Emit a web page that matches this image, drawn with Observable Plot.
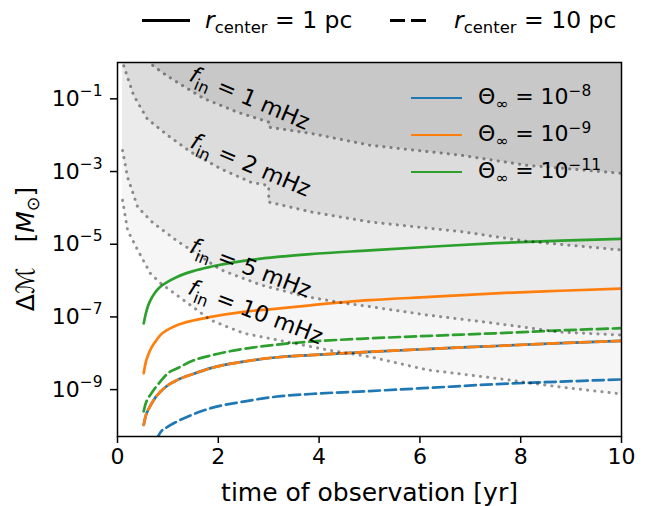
<!DOCTYPE html>
<html><head><meta charset="utf-8">
<script src="https://cdn.jsdelivr.net/npm/d3@7"></script>
<script src="https://cdn.jsdelivr.net/npm/@observablehq/plot@0.6"></script>
<style>
body{margin:0;background:#fff;font-family:"DejaVu Sans",sans-serif;color:#000;}
#wrap{position:relative;width:647px;height:506px;overflow:hidden;}
#toplegend{position:relative;height:38px;}
.abs{position:absolute;white-space:nowrap;}
.ln{position:absolute;height:0;}
.txt{font-size:22px;line-height:22px;transform:translateY(-50%);}
.big{font-size:23.5px;line-height:24px;}
.sub{font-size:70%;position:relative;top:0.3em;}
.sup{font-size:70%;position:relative;top:-0.5em;}
#ylab{position:absolute;left:25px;top:249px;transform:translate(-50%,-50%) rotate(-90deg);font-size:25px;white-space:nowrap;}
</style></head><body>
<div id="wrap">
  <div id="toplegend"></div>
  <div id="chart"></div>
  <div id="ylab">Δℳ<span style="display:inline-block;width:1.0em"></span>[<i>M</i><span class="sub">⊙</span>]</div>
</div>
<script>
// ---------------- data ----------------
// colored curves: time [yr] and log10(ΔM / M_sun)
const tCurve = [0.52,0.56,0.6,0.65,0.75,0.85,1.0,1.18,1.5,1.85,2.5,3.17,3.83,5.0,6.2,7.5,8.8,10];
const logM_th8_1pc  = [-9.97,-9.72,-9.58,-9.45,-9.22,-9.06,-8.88,-8.74,-8.57,-8.41,-8.23,-8.11,-8.05,-7.96,-7.88,-7.80,-7.72,-7.66];
const logM_th9_1pc  = [-8.55,-8.25,-8.08,-7.91,-7.68,-7.50,-7.35,-7.23,-7.10,-7.00,-6.86,-6.77,-6.68,-6.54,-6.45,-6.35,-6.28,-6.22];
const logM_th11_1pc = [-7.18,-6.92,-6.72,-6.55,-6.32,-6.17,-6.03,-5.90,-5.74,-5.62,-5.46,-5.35,-5.27,-5.17,-5.07,-4.97,-4.90,-4.85];
const logM_th9_10pc = [-9.97,-9.72,-9.58,-9.45,-9.22,-9.06,-8.88,-8.74,-8.57,-8.41,-8.23,-8.11,-8.05,-7.96,-7.88,-7.80,-7.72,-7.66];
const logM_th11_10pc= [-9.60,-9.38,-9.25,-9.15,-8.95,-8.78,-8.55,-8.42,-8.20,-8.06,-7.88,-7.76,-7.68,-7.59,-7.52,-7.45,-7.37,-7.31];
const tTh8_10pc     = [0.55,0.65,0.75,0.85,1.0,1.18,1.5,1.85,2.5,3.17,3.83,5.0,6.2,7.5,8.8,10];
const logM_th8_10pc = [-11.2,-10.8,-10.45,-10.18,-10.02,-9.88,-9.68,-9.51,-9.33,-9.19,-9.12,-9.04,-8.95,-8.85,-8.78,-8.72];

// f_in limit curves
const t_f1 = [0.45,0.65,0.91,1.19,1.71,2.38,3.0,3.0,3.83,5.02,6.8,8.13,10];
const logM_f1 = [0.4,-0.03,-0.30,-0.55,-0.99,-1.37,-1.64,-1.78,-1.95,-2.28,-2.55,-2.83,-3.05];
const t_f2 = [0.08,0.12,0.32,0.59,0.99,1.45,2.04,2.64,3.0,3.0,3.83,5.02,6.8,8.13,10];
const logM_f2 = [0.3,-0.08,-0.91,-1.55,-2.0,-2.46,-2.92,-3.29,-3.39,-3.84,-4.11,-4.39,-4.65,-4.92,-5.16];
const t_f5 = [0.1,0.2,0.4,0.71,1.0,1.19,1.45,2.04,2.84,3.7,4.49,5.02,6.15,7.46,8.79,10];
const logM_f5 = [-2.42,-3.16,-3.98,-4.42,-4.72,-4.92,-5.15,-5.70,-6.12,-6.43,-6.62,-6.72,-6.95,-7.17,-7.42,-7.50];
const t_f10 = [0.1,0.2,0.4,0.65,0.85,1.39,1.85,2.5,4.17,5.02,6.15,7.46,8.79,10];
const logM_f10 = [-3.79,-4.62,-5.16,-5.80,-6.07,-6.62,-7.09,-7.45,-7.91,-8.10,-8.46,-8.68,-8.93,-9.12];

// f_in curve labels
const fLabelText = ["f_in = 1 mHz","f_in = 2 mHz","f_in = 5 mHz","f_in = 10 mHz"];
const fLabelT    = [2.62, 2.64, 2.64, 2.74];
const fLabelLogM = [-0.99, -2.83, -5.66, -6.87];
const fLabelAngle= [23, 23, 21, 21];

const xTicks = [0,2,4,6,8,10];
const yTickExp = [-1,-3,-5,-7,-9];
const yDomainExp = [-10.29, 0];

const thetaLegend = ["−8","−9","−11"];
const colors = {th8:"#1f77b4", th9:"#ff7f0e", th11:"#2ca02c"};
const bandFills = ["#f6f6f6","#ebebeb","#dcdcdc","#c8c8c8"]; // 10,5,2,1 mHz

// ---------------- build tables ----------------
const rows = (t, lm) => t.map((x,i)=>({t:x, m:10**lm[i]}));
const curves = [
  {d:rows(tCurve,logM_th8_1pc),   c:colors.th8,  dash:null},
  {d:rows(tCurve,logM_th9_1pc),   c:colors.th9,  dash:null},
  {d:rows(tCurve,logM_th11_1pc),  c:colors.th11, dash:null},
  {d:rows(tTh8_10pc,logM_th8_10pc), c:colors.th8, dash:"11,5"},
  {d:rows(tCurve,logM_th9_10pc),  c:colors.th9,  dash:"11,5"},
  {d:rows(tCurve,logM_th11_10pc), c:colors.th11, dash:"11,5"},
];
const fCurves = [rows(t_f10,logM_f10), rows(t_f5,logM_f5), rows(t_f2,logM_f2), rows(t_f1,logM_f1)];
const yTop = 10;
const labels = fLabelText.map((s,i)=>({s, t:fLabelT[i], m:10**fLabelLogM[i], a:fLabelAngle[i]}));

const chart = Plot.plot({
  width:647, height:468, marginTop:24, marginBottom:70, marginLeft:117, marginRight:26,
  style:{fontFamily:"DejaVu Sans", fontSize:"22px", color:"black", background:"white", overflow:"visible"},
  x:{domain:[0,10]},
  y:{type:"log", domain:[10**yDomainExp[0], 10**yDomainExp[1]]},
  marks:[
    ...fCurves.map((d,i)=>Plot.areaY(d,{x:"t", y1:"m", y2:()=>yTop, fill:bandFills[i], curve:"linear", clip:true})),
    ...curves.map(s=>Plot.line(s.d,{x:"t", y:"m", stroke:s.c, strokeWidth:2.7, strokeDasharray:s.dash, curve:"monotone-x", clip:true})),
    ...fCurves.map(d=>Plot.line(d,{x:"t", y:"m", stroke:"black", strokeOpacity:0.42, strokeWidth:3, strokeDasharray:"0.2,7", strokeLinecap:"round", curve:"linear", clip:true})),
    Plot.text(labels,{x:"t", y:"m", text:"s", rotate:"a", fontSize:22.5, textAnchor:"middle", lineAnchor:"middle", className:"flab"}),
    Plot.frame({stroke:"black", strokeWidth:1.5}),
    Plot.axisX({ticks:xTicks, tickSize:7, tickPadding:5, strokeWidth:1.5, fontSize:22, tickFormat:d=>String(d), label:null}),
    Plot.axisY({ticks:yTickExp.map(e=>10**e), tickSize:7, tickPadding:8, strokeWidth:1.5, fontSize:22, tickFormat:d=>"10^"+Math.round(Math.log10(d)), label:null}),
    Plot.axisX({ticks:[], label:"time of observation [yr]", labelAnchor:"center", labelArrow:"none", labelOffset:64, fontSize:25})
  ]
});
document.getElementById("chart").appendChild(chart);

// ---------------- rich text (sub/superscripts) ----------------
const NS="http://www.w3.org/2000/svg";
function rich(el, parts){
  el.textContent=""; let cur=0;
  for(const p of parts){
    const ts=document.createElementNS(NS,"tspan");
    ts.textContent=p.t;
    if(p.it) ts.setAttribute("font-style","italic");
    if(p.fs) ts.setAttribute("font-size",p.fs);
    const sh=p.sh||0; if(sh-cur) ts.setAttribute("dy",sh-cur); cur=sh;
    el.appendChild(ts);
  }
}
d3.select(chart).selectAll("text").each(function(){
  const s=this.textContent;
  let m;
  if((m=s.match(/^10\^(-?\d+)$/))){
    rich(this,[{t:"10"},{t:m[1].replace("-","−"),fs:"15.5px",sh:-10}]);
  } else if((m=s.match(/^f_in(.*)$/))){
    rich(this,[{t:"f",it:true},{t:"in",fs:"16px",sh:6},{t:m[1],sh:0}]);
  }
});

// ---------------- legends ----------------
const topEl=document.getElementById("toplegend");
topEl.innerHTML=`
 <div class="ln" style="left:142px;top:19px;width:48px;border-top:3.4px solid #000"></div>
 <div class="abs txt big" style="left:205px;top:21px"><i>r</i><span class="sub">center</span> = 1 pc</div>
 <div class="ln" style="left:390px;top:19px;width:15px;border-top:3.4px solid #000;"></div>
 <div class="ln" style="left:411px;top:19px;width:15px;border-top:3.4px solid #000;"></div>
 <div class="abs txt big" style="left:454px;top:21px"><i>r</i><span class="sub">center</span> = 10 pc</div>`;
const wrap=document.getElementById("wrap");
const legY=[98,135,172];
[colors.th8,colors.th9,colors.th11].forEach((c,i)=>{
  const l=document.createElement("div"); l.className="ln";
  l.style.cssText=`left:411px;top:${legY[i]-1}px;width:51px;border-top:2.7px solid ${c}`;
  wrap.appendChild(l);
  const t=document.createElement("div"); t.className="abs txt";
  t.style.cssText=`left:478px;top:${legY[i]}px`;
  t.innerHTML=`Θ<span class="sub">∞</span> = 10<span class="sup">${thetaLegend[i]}</span>`;
  wrap.appendChild(t);
});
</script>
</body></html>
